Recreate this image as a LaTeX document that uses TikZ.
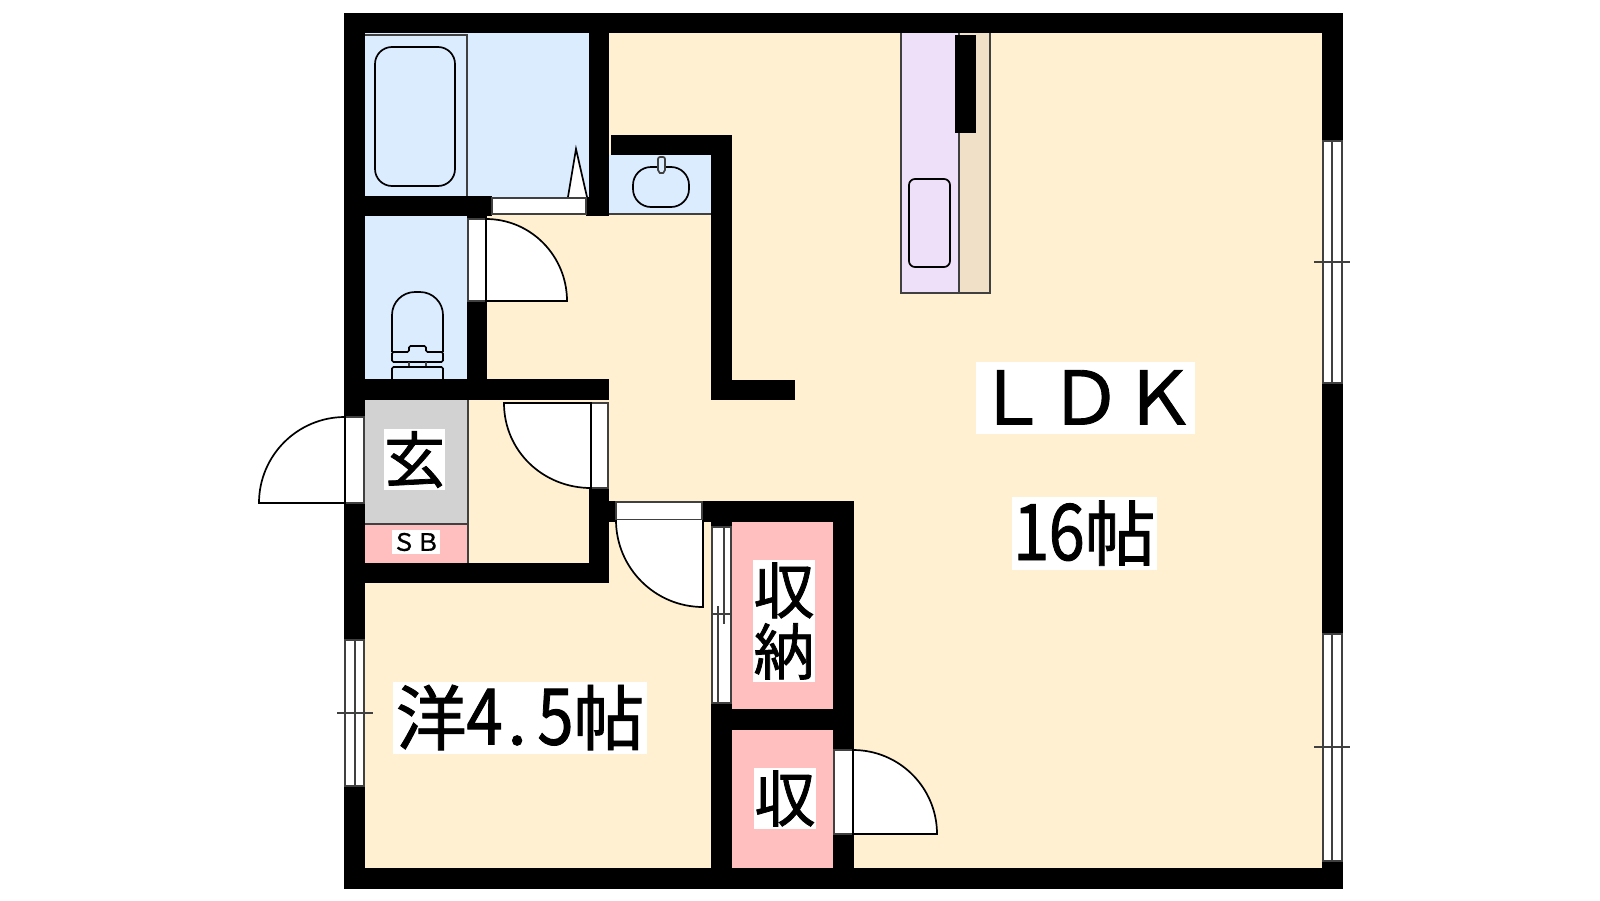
\documentclass[tikz,border=0pt]{standalone}
\usepackage{fontspec}
\newfontfamily\cjk[FakeBold=1.2]{Noto Sans CJK JP}
\definecolor{cream}{HTML}{FEF0D0}
\definecolor{wetblue}{HTML}{DCECFF}
\definecolor{entrygray}{HTML}{D2D2D2}
\definecolor{storepink}{HTML}{FFBFBF}
\definecolor{kitpurple}{HTML}{EEE0F8}
\definecolor{kitbeige}{HTML}{F0E0C8}
\definecolor{thinline}{HTML}{404040}
\newcommand{\hw}[1]{\makebox[35.5pt]{\scalebox{.92}[1.1]{#1}}}
\tikzset{
  wall/.style={fill=black},
  thin frame/.style={draw=thinline,line width=1.7pt},
  opening/.style={fill=white,draw=thinline,line width=1.7pt},
  leaf/.style={fill=white,draw=black,line width=1.7pt},
  fixture/.style={draw=black,line width=1.7pt},
  lbl/.style={fill=white,inner sep=0pt,text=black,align=center},
  big/.style={lbl,font=\cjk\fontsize{71}{71}\selectfont,text height=62pt,text depth=9pt},
  mid/.style={lbl,font=\cjk\fontsize{61}{61}\selectfont},
}
\begin{document}
\begin{tikzpicture}[x=1pt,y=-1pt]
\useasboundingbox (0,0) rectangle (1600,900);
% floors
\fill[cream] (365,33) rectangle (1322,868);
\fill[wetblue] (365,33) rectangle (589,197);
\fill[wetblue] (609,155) rectangle (711,214);
\fill[wetblue] (365,216) rectangle (467,379);
\fill[entrygray] (365,400) rectangle (468,524);
\fill[storepink] (365,524) rectangle (468,563);
\fill[storepink] (732,522) rectangle (833,709);
\fill[storepink] (732,730) rectangle (833,868);
\fill[kitpurple] (901,33) rectangle (959,293);
\fill[kitbeige] (959,33) rectangle (990,293);
% thin room lines
\draw[thin frame] (365,35) -- (467,35) -- (467,196);
\draw[thin frame] (609,214) -- (711,214);
\draw[thin frame] (468,400) -- (468,563);
\draw[thin frame] (365,524) -- (468,524);
\draw[thin frame] (901,33) -- (901,293) -- (990,293) -- (990,33);
\draw[thin frame] (959,33) -- (959,293);
% walls
\fill[wall] (344,13) rectangle (1343,33);
\fill[wall] (344,868) rectangle (1343,889);
\fill[wall] (344,13) rectangle (365,417);
\fill[wall] (344,503) rectangle (365,640);
\fill[wall] (344,786) rectangle (365,889);
\fill[wall] (1322,13) rectangle (1343,141);
\fill[wall] (1322,383) rectangle (1343,634);
\fill[wall] (1322,861) rectangle (1343,889);
\fill[wall] (365,196) rectangle (492,216);
\fill[wall] (589,33) rectangle (609,216);
\fill[wall] (586,197) rectangle (589,216);
\fill[wall] (467,216) rectangle (487,219);
\fill[wall] (467,301) rectangle (487,380);
\fill[wall] (611,135) rectangle (732,155);
\fill[wall] (711,135) rectangle (732,400);
\fill[wall] (711,380) rectangle (795,400);
\fill[wall] (344,379) rectangle (609,400);
\fill[wall] (589,488) rectangle (609,583);
\fill[wall] (344,563) rectangle (609,583);
\fill[wall] (609,501) rectangle (616,522);
\fill[wall] (702,501) rectangle (854,522);
\fill[wall] (711,522) rectangle (732,527);
\fill[wall] (711,703) rectangle (732,868);
\fill[wall] (711,709) rectangle (854,730);
\fill[wall] (833,522) rectangle (854,750);
\fill[wall] (833,834) rectangle (854,868);
\fill[wall] (955,35) rectangle (976,133);
% bath fixtures
\draw[fixture,rounded corners=17pt] (375,47) rectangle (455,186);
\draw[leaf] (568,197) -- (576,149) -- (587,197);
\draw[opening] (492,198) rectangle (586,214);
% basin
\draw[fixture,rounded corners=18pt] (633,167) rectangle (689,207);
\draw[thin frame,fill=wetblue,rounded corners=2pt] (658,157) -- (665,157) -- (665,172) -- (661.5,174) -- (658,172) -- cycle;
% toilet
\draw[fixture,rounded corners=23pt] (392,352) -- (392,292) -- (443,292) -- (443,352);
\draw[fixture,rounded corners=1.5pt] (392,352) -- (392,362) -- (443,362) -- (443,352) -- (426,352) -- (426,346) -- (409,346) -- (409,352) -- cycle;
\draw[thin frame] (409,362) -- (409,367) (426,362) -- (426,367);
\draw[fixture,rounded corners=1.5pt] (392,379) -- (392,367) -- (443,367) -- (443,379);
% doors
\draw[opening] (468,219) rectangle (486,301);
\draw[leaf] (486,219) .. controls (531,219) and (567,256) .. (567,301) -- (486,301) -- cycle;
\draw[opening] (591,403) rectangle (608,488);
\draw[leaf] (504,403) .. controls (504,451) and (543,488) .. (591,488) -- (591,403) -- cycle;
\draw[opening] (345,417) rectangle (364,503);
\draw[leaf] (345,417) .. controls (297.5,417) and (259,455.5) .. (259,503) -- (345,503) -- cycle;
\draw[opening] (616,502) rectangle (702,520);
\draw[leaf] (616,520) .. controls (616,568) and (655,607) .. (703,607) -- (703,520);
\draw[opening] (834,750) rectangle (853,834);
\draw[leaf] (853,750) .. controls (899.4,750) and (937,787.6) .. (937,834) -- (853,834) -- cycle;
% closet folding doors
\draw[opening] (712,527) rectangle (731,703);
\draw[thin frame] (712,614) -- (731,614);
\draw[thin frame] (724,527) -- (724,624);
\draw[thin frame] (718,606) -- (718,703);
% windows
\draw[opening] (345,640) rectangle (364,786);
\draw[thin frame] (355,640) -- (355,786);
\draw[thin frame] (337,713) -- (373,713);
\draw[opening] (1323,141) rectangle (1342,383);
\draw[thin frame] (1332,141) -- (1332,383);
\draw[thin frame] (1314,262) -- (1350,262);
\draw[opening] (1323,634) rectangle (1342,861);
\draw[thin frame] (1332,634) -- (1332,861);
\draw[thin frame] (1314,747) -- (1350,747);
% kitchen sink
\draw[fixture,rounded corners=6pt] (909,179) rectangle (950,267);
% labels
\node[big,minimum width=219pt,minimum height=72pt] (ldk) at (1085.5,398) {\makebox[210pt]{\scalebox{1.04}[1.04]{ＬＤＫ}}};
\node[big,minimum width=145pt,minimum height=73pt] (ldksize) at (1084.5,533.5) {\hw{1}\hw{6}帖};
\node[big,minimum width=254pt,minimum height=72pt] (western) at (520,718) {洋\hw{4}\makebox[35.5pt][l]{\hspace{5pt}.}\hw{5}帖};
\node[mid,minimum width=61pt,minimum height=61pt] (genkan) at (414.5,459.5) {玄};
\node[lbl,font=\cjk\fontsize{24}{24}\selectfont,minimum width=48pt,minimum height=24pt] (sb) at (416,542) {ＳＢ};
\node[mid,minimum width=62pt,minimum height=122pt] (closetA) at (784,621) {収\\納};
\node[mid,minimum width=62pt,minimum height=61pt] (closetB) at (785,798.5) {収};
\end{tikzpicture}
\end{document}
